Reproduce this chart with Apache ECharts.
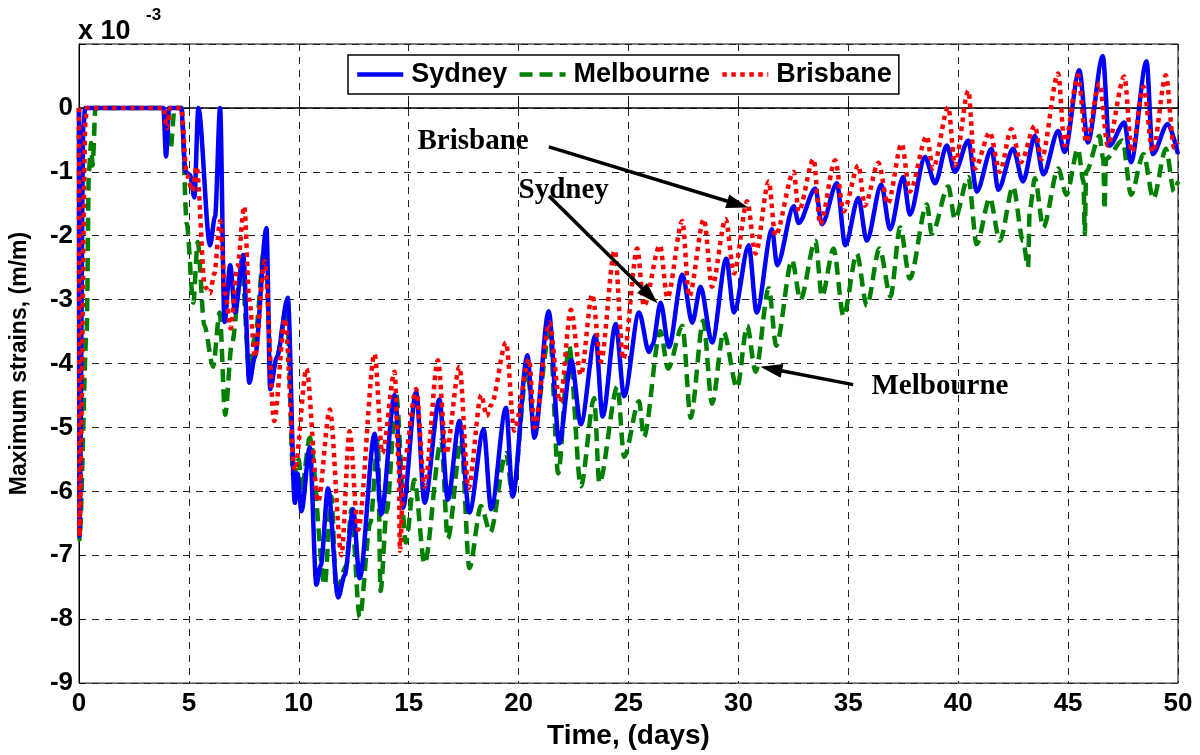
<!DOCTYPE html>
<html>
<head>
<meta charset="utf-8">
<script src="https://cdn.jsdelivr.net/npm/echarts@6/dist/echarts.min.js"></script>
<style>
  html, body { margin: 0; padding: 0; background: #fff; }
  #chart { width: 1200px; height: 755px; }
</style>
</head>
<body>
<div id="chart"></div>
<script>
// Maximum strains (x 10^-3 m/m) against time in days, one [day, strain] pair per point.
const sydney = [
  [0,0],[0.02,-6.7],[0.2,-0.3],[0.28,0],[3.84,0],[3.96,-0.76],[4.1,0],[4.65,0],[4.85,-1.0],[5.05,-1.05],
  [5.25,-1.4],[5.43,0],[5.96,-2.15],[6.19,-1.7],[6.42,0],[6.62,-3.35],[6.88,-2.46],[7.1,-3.2],[7.47,-2.3],
  [7.75,-4.3],[8.0,-3.9],[8.53,-1.88],[8.7,-4.4],[9.0,-3.9],[9.5,-2.97],[9.82,-6.18],[9.94,-5.72],[10.12,-6.31],
  [10.5,-5.31],[10.8,-7.46],[11.0,-7.16],[11.33,-5.95],[11.79,-7.66],[12.09,-7.31],[12.47,-6.28],[12.77,-7.36],
  [13.45,-5.1],[13.75,-6.36],[14.36,-4.49],[14.74,-6.26],[15.34,-4.44],[15.72,-6.18],[16.4,-4.56],[16.78,-6.13],
  [17.31,-4.9],[17.76,-6.33],[18.41,-5.03],[18.75,-6.28],[19.43,-4.69],[19.73,-6.08],[20.4,-3.87],[20.72,-5.16],
  [21.37,-3.18],[21.85,-5.25],[22.4,-3.95],[22.83,-4.95],[23.5,-3.56],[23.82,-4.83],[24.42,-3.38],[24.8,-4.51],
  [25.48,-3.2],[25.93,-3.82],[26.1,-3.7],[26.46,-3.05],[26.84,-3.74],[27.45,-2.61],[27.9,-3.36],[28.28,-2.8],
  [28.8,-3.67],[29.45,-2.36],[29.8,-3.2],[30.47,-2.15],[30.83,-3.2],[31.53,-1.9],[31.76,-2.46],[32.52,-1.54],
  [32.74,-1.8],[33.5,-1.26],[33.8,-1.82],[34.48,-1.18],[34.86,-2.15],[35.46,-1.41],[35.84,-2.08],[36.5,-1.2],
  [36.9,-1.9],[37.5,-1.08],[37.8,-1.67],[38.49,-0.77],[38.95,-1.18],[39.48,-0.59],[39.85,-1.0],[40.46,-0.51],
  [40.84,-1.31],[41.52,-0.64],[41.82,-1.28],[42.5,-0.64],[42.95,-1.15],[43.49,-0.44],[43.87,-1.04],[44.55,-0.36],
  [44.84,-0.69],[45.51,0.59],[45.9,-0.54],[46.58,0.81],[46.88,-0.59],[47.56,-0.23],[47.86,-0.85],[48.57,0.73],
  [48.85,-0.72],[49.53,-0.25],[50,-0.72]
];

const melbourne = [
  [0,0],[0.02,-6.75],[0.35,-3.5],[0.45,-1.0],[0.55,-0.55],[0.62,-0.9],[0.75,0],[3.9,0],[4.17,-0.63],[4.35,0],
  [4.67,0],[4.9,-1.81],[5.2,-3.05],[5.4,-2.1],[5.7,-3.4],[6.1,-4.05],[6.4,-3.2],[6.65,-4.8],[6.95,-3.7],
  [7.4,-2.5],[7.75,-4.1],[8.0,-3.6],[8.46,-2.1],[8.75,-4.2],[9.0,-3.9],[9.45,-3.1],[9.75,-5.77],[10.0,-5.5],
  [10.12,-6.0],[10.5,-5.16],[11.18,-7.46],[11.48,-6.08],[11.71,-7.56],[12.17,-7.16],[12.39,-6.28],[12.77,-7.97],
  [13.25,-6.5],[13.6,-5.2],[13.72,-7.56],[14.0,-6.3],[14.43,-4.49],[14.87,-6.8],[15.26,-5.82],[15.72,-7.13],
  [16.48,-5.2],[16.78,-6.74],[17.39,-5.2],[17.76,-7.2],[18.29,-6.23],[18.71,-6.64],[19.43,-5.4],[19.73,-6.08],
  [20.38,-4.1],[20.72,-5.0],[21.42,-3.5],[21.8,-5.72],[22.3,-3.72],[22.83,-5.92],[23.44,-4.54],[23.67,-5.87],
  [24.5,-4.36],[24.8,-5.46],[25.48,-4.59],[25.7,-5.15],[26.45,-3.49],[26.8,-4.08],[27.45,-3.41],[27.83,-4.85],
  [28.4,-3.33],[28.8,-4.63],[29.33,-3.51],[29.94,-4.38],[30.4,-3.41],[30.78,-4.13],[31.38,-2.82],[31.72,-3.72],
  [32.44,-2.38],[32.82,-3.0],[33.5,-2.08],[33.8,-2.95],[34.33,-2.2],[34.78,-3.26],[35.39,-2.28],[35.84,-3.1],
  [36.42,-2.2],[36.92,-2.95],[37.36,-1.87],[37.8,-2.67],[38.57,-1.51],[38.8,-1.97],[39.55,-1.23],[39.85,-1.74],
  [40.46,-1.08],[40.84,-2.13],[41.44,-1.41],[41.89,-2.08],[42.5,-1.23],[42.95,-2.08],[43.18,-2.49],[43.25,-1.6],
  [43.49,-1.1],[43.87,-1.87],[44.55,-0.95],[44.92,-1.36],[45.45,-0.64],[45.7,-1.15],[45.76,-1.97],[45.82,-1.0],
  [46.43,-0.44],[46.6,-0.8],[46.66,-1.59],[46.72,-0.8],[47.48,-0.51],[47.86,-1.36],[48.43,-0.72],[48.88,-1.42],
  [49.45,-0.64],[49.82,-1.31],[50,-1.15]
];

const brisbane = [
  [0,0],[0.02,-6.7],[0.3,-0.2],[0.35,0],[3.85,0],[4.0,-0.32],[4.15,0],[4.65,0],[4.9,-1.04],[5.15,-1.3],
  [5.35,-0.92],[5.73,-2.8],[5.96,-2.9],[6.15,-2.6],[6.42,-1.77],[6.65,-2.9],[6.9,-3.45],[7.2,-2.5],[7.52,-1.54],
  [7.75,-3.0],[8.0,-3.9],[8.45,-2.4],[8.88,-4.9],[9.37,-3.3],[9.82,-5.67],[10.35,-4.08],[10.88,-6.16],
  [11.41,-4.72],[11.94,-7.0],[12.31,-5.06],[12.7,-6.6],[13.45,-3.85],[13.8,-5.4],[14.36,-4.13],[14.55,-5.6],
  [14.6,-6.93],[14.8,-5.5],[15.34,-4.4],[15.72,-5.93],[16.33,-3.95],[16.7,-5.41],[17.31,-4.05],[17.72,-5.95],
  [18.3,-4.49],[18.55,-4.82],[18.75,-4.65],[19.43,-3.67],[19.8,-5.05],[20.48,-3.93],[20.72,-5.0],[21.4,-3.36],
  [21.88,-4.6],[22.38,-3.16],[22.83,-4.18],[23.35,-2.92],[23.74,-3.97],[24.37,-2.23],[24.76,-3.93],[25.4,-2.2],
  [25.7,-3.1],[26.43,-2.15],[26.77,-2.97],[27.45,-1.77],[27.76,-2.95],[28.43,-1.74],[28.8,-2.8],[29.42,-1.74],
  [29.8,-2.59],[30.4,-1.46],[30.78,-2.28],[31.38,-1.15],[31.68,-2.0],[32.52,-1.0],[32.74,-1.62],[33.42,-0.8],
  [33.72,-1.82],[34.41,-0.82],[34.78,-1.62],[35.46,-0.9],[35.75,-1.53],[36.37,-0.86],[36.8,-1.5],[37.43,-0.56],
  [37.8,-1.31],[38.57,-0.44],[38.85,-0.95],[39.55,0.01],[39.85,-0.9],[40.46,0.27],[40.76,-0.95],[41.44,-0.38],
  [41.89,-1.0],[42.42,-0.33],[42.85,-0.85],[43.49,-0.28],[43.79,-0.8],[44.55,0.54],[44.84,-0.59],[45.45,0.51],
  [45.83,-0.54],[46.43,0.38],[46.8,-0.59],[47.56,0.49],[47.9,-0.69],[48.43,0.33],[48.85,-0.69],[49.45,0.51],
  [49.82,-0.62],[50,-0.54]
];

// Axis ranges and tick spacing
const xTicks = { min: 0, max: 50, step: 5 };
const yTicks = { min: -9, max: 1, step: 1 };

// Call-out labels: text anchor, arrow tail and arrow tip, in [day, strain]
const callouts = [
  { text: 'Brisbane',  at: [17.93, -0.53], from: [21.38, -0.61], to: [30.45, -1.56] },
  { text: 'Sydney',    at: [22.05, -1.30], from: [21.38, -1.38], to: [26.33, -3.06] },
  { text: 'Melbourne', at: [39.17, -4.36], from: [35.22, -4.33], to: [31.00, -4.05] }
];

const SANS = '"Liberation Sans", Arial, sans-serif';
const sansBold = { fontFamily: SANS, fontWeight: 'bold', color: '#000' };

const chart = echarts.init(document.getElementById('chart'), null, { renderer: 'canvas' });

const lineCommon = { type: 'line', showSymbol: false, symbol: 'none', smooth: 0.3, smoothMonotone: 'x' };

const option = {
  animation: false,
  backgroundColor: '#fff',
  grid: {
    left: 77, right: 22, top: 44, bottom: 62,
    show: true, borderColor: '#000', borderWidth: 1, backgroundColor: 'transparent'
  },
  legend: {
    left: 348, top: 55,
    orient: 'horizontal',
    backgroundColor: '#fff',
    borderColor: '#000', borderWidth: 1.5,
    padding: [6, 7, 6, 7],
    itemWidth: 46, itemHeight: 12, itemGap: 10,
    itemStyle: { opacity: 0 },
    lineStyle: { width: 4.5 },
    textStyle: Object.assign({ fontSize: 27, padding: [0, 0, 0, 3] }, sansBold),
    data: ['Sydney', 'Melbourne', 'Brisbane']
  },
  xAxis: {
    type: 'value',
    min: xTicks.min, max: xTicks.max, interval: xTicks.step,
    name: 'Time, (days)',
    nameLocation: 'middle', nameGap: 33,
    nameTextStyle: Object.assign({ fontSize: 28 }, sansBold),
    axisLine: { show: true, lineStyle: { color: '#000', width: 1.5 } },
    axisTick: { show: true, inside: true, length: 6, lineStyle: { color: '#000' } },
    axisLabel: Object.assign({ fontSize: 26, margin: 8 }, sansBold),
    splitLine: { show: true, lineStyle: { color: '#222', width: 1, type: [7, 6] } }
  },
  yAxis: {
    type: 'value',
    min: yTicks.min, max: yTicks.max, interval: yTicks.step,
    name: 'Maximum strains, (m/m)',
    nameLocation: 'middle', nameGap: 48, nameRotate: 90,
    nameTextStyle: Object.assign({ fontSize: 23 }, sansBold),
    axisLine: { show: true, onZero: false, lineStyle: { color: '#000', width: 1 } },
    axisTick: { show: true, inside: true, length: 6, lineStyle: { color: '#000' } },
    axisLabel: Object.assign({
      fontSize: 26, margin: 6,
      formatter: v => (v > 0 ? '' : String(v))
    }, sansBold),
    splitLine: { show: true, lineStyle: { color: '#222', width: 1, type: [7, 6] } }
  },
  series: [
    Object.assign({
      name: 'Sydney', data: sydney,
      lineStyle: { color: '#0000ff', width: 4.5, type: 'solid', join: 'round' },
      itemStyle: { color: '#0000ff' }, z: 3
    }, lineCommon),
    Object.assign({
      name: 'Melbourne', data: melbourne,
      lineStyle: { color: '#008000', width: 4.5, type: [13, 7], cap: 'butt' },
      itemStyle: { color: '#008000' }, z: 2
    }, lineCommon),
    Object.assign({
      name: 'Brisbane', data: brisbane,
      lineStyle: { color: '#ff0000', width: 4.5, type: [4.5, 4.5], cap: 'butt' },
      itemStyle: { color: '#ff0000' }, z: 4
    }, lineCommon)
  ]
};

chart.setOption(option);

// Exponent label and call-out arrows, placed through the axes' own scales
function drawOverlay() {
  const px = p => chart.convertToPixel({ gridIndex: 0 }, p);
  const elements = [
    { type: 'text', left: 78, top: 18,
      style: { text: 'x 10', fill: '#000', fontSize: 27, fontWeight: 'bold', fontFamily: SANS } },
    { type: 'text', left: 146, top: 7,
      style: { text: '-3', fill: '#000', fontSize: 17, fontWeight: 'bold', fontFamily: SANS } }
  ];
  callouts.forEach(c => {
    const a = px(c.at), s = px(c.from), e = px(c.to);
    elements.push({
      type: 'text', x: a[0], y: a[1], z: 20,
      style: { text: c.text, fill: '#000', align: 'center', verticalAlign: 'middle',
               fontSize: 29, fontWeight: 'bold', fontFamily: '"Liberation Serif", "Times New Roman", serif' }
    });
    const dx = e[0] - s[0], dy = e[1] - s[1];
    const len = Math.hypot(dx, dy), ux = dx / len, uy = dy / len;
    const headLen = 22, headHalf = 7;
    const bx = e[0] - ux * headLen, by = e[1] - uy * headLen;
    elements.push({
      type: 'line', z: 20,
      shape: { x1: s[0], y1: s[1], x2: bx + ux * 2, y2: by + uy * 2 },
      style: { stroke: '#000', lineWidth: 3.5 }
    });
    elements.push({
      type: 'polygon', z: 20,
      shape: { points: [[e[0], e[1]], [bx - uy * headHalf, by + ux * headHalf], [bx + uy * headHalf, by - ux * headHalf]] },
      style: { fill: '#000' }
    });
  });
  chart.setOption({ graphic: { elements: elements } });
}
drawOverlay();
</script>
</body>
</html>
